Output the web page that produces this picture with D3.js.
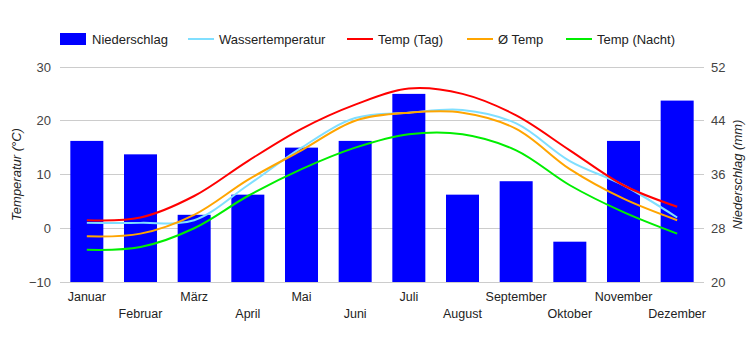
<!DOCTYPE html>
<html>
<head>
<meta charset="utf-8">
<script src="https://cdn.jsdelivr.net/npm/d3@7"></script>
<style>
  body { margin: 0; background: #fff; }
  svg text { font-family: "Liberation Sans", Arial, sans-serif; }
</style>
</head>
<body>
<div id="chart"></div>
<script>
var months = ["Januar", "Februar", "März", "April", "Mai", "Juni", "Juli", "August", "September", "Oktober", "November", "Dezember"];
var niederschlag = [41, 39, 30, 33, 40, 41, 48, 33, 35, 26, 41, 47];
var wassertemp = [1, 1, 1.5, 8, 15, 20.5, 21.5, 22, 19.5, 12.5, 8, 2];
var tempTag = [1.5, 2, 6, 12.5, 18.5, 23, 26, 25, 21, 14.5, 8, 4];
var tempAvg = [-1.5, -1, 2.5, 9, 14.5, 20, 21.5, 21.5, 18.5, 11, 5.5, 1.5];
var tempNacht = [-4, -3.5, 0, 6, 11, 15, 17.5, 17.5, 14.5, 8, 3, -1];
var tempTicks = [-10, 0, 10, 20, 30];
var rainTicks = [20, 28, 36, 44, 52];

function init() {
    var w = 750, h = 350;
    var left = 60, right = 704, top = 67, bottom = 282;

    var svg = d3.select("#chart").append("svg")
        .attr("width", w)
        .attr("height", h);

    var x = d3.scaleBand()
        .domain(months)
        .range([left, right])
        .paddingInner(0.385)
        .paddingOuter(0.1925);

    var yT = d3.scaleLinear().domain([-10, 30]).range([bottom, top]);
    var yR = d3.scaleLinear().domain([20, 52]).range([bottom, top]);

    // gridlines
    svg.append("g").selectAll("line")
        .data(tempTicks)
        .enter().append("line")
        .attr("x1", left).attr("x2", right)
        .attr("y1", function(d){ return yT(d); })
        .attr("y2", function(d){ return yT(d); })
        .attr("stroke", "#cccccc")
        .attr("stroke-width", 1)
        .attr("shape-rendering", "crispEdges");

    // bars
    svg.append("g").selectAll("rect")
        .data(niederschlag)
        .enter().append("rect")
        .attr("x", function(d, i){ return x(months[i]); })
        .attr("width", x.bandwidth())
        .attr("y", function(d){ return yR(d); })
        .attr("height", function(d){ return bottom - yR(d); })
        .attr("fill", "#0000ff");

    // lines
    var series = [
        { values: wassertemp, color: "#80dfff" },
        { values: tempTag, color: "#ff0000" },
        { values: tempAvg, color: "#ffa500" },
        { values: tempNacht, color: "#00ee00" }
    ];

    var line = d3.line()
        .x(function(d, i){ return x(months[i]) + x.bandwidth() / 2; })
        .y(function(d){ return yT(d); })
        .curve(d3.curveCatmullRom.alpha(0.5));

    svg.append("g").selectAll("path")
        .data(series)
        .enter().append("path")
        .attr("d", function(d){ return line(d.values); })
        .attr("fill", "none")
        .attr("stroke", function(d){ return d.color; })
        .attr("stroke-width", 2);

    // left axis
    var axL = svg.append("g")
        .attr("transform", "translate(" + left + ",0)")
        .call(d3.axisLeft(yT).tickValues(tempTicks).tickSize(0).tickPadding(9).tickFormat(d3.format("d")));
    axL.select(".domain").remove();
    axL.selectAll("text").attr("fill", "#444").style("font-size", "13px");

    // right axis
    var axR = svg.append("g")
        .attr("transform", "translate(" + right + ",0)")
        .call(d3.axisRight(yR).tickValues(rainTicks).tickSize(0).tickPadding(7));
    axR.select(".domain").remove();
    axR.selectAll("text").attr("fill", "#444").style("font-size", "13px");

    // x labels, staggered
    svg.append("g").selectAll("text")
        .data(months)
        .enter().append("text")
        .attr("x", function(d){ return x(d) + x.bandwidth() / 2; })
        .attr("y", function(d, i){ return i % 2 == 0 ? 301 : 318; })
        .attr("text-anchor", "middle")
        .attr("fill", "#222")
        .style("font-size", "12.5px")
        .text(function(d){ return d; });

    // axis titles
    svg.append("text")
        .attr("transform", "translate(21," + ((top + bottom) / 2) + ") rotate(-90)")
        .attr("text-anchor", "middle")
        .attr("fill", "#222")
        .style("font-size", "13px")
        .style("font-style", "italic")
        .text("Temperatur (°C)");

    svg.append("text")
        .attr("transform", "translate(742," + ((top + bottom) / 2) + ") rotate(-90)")
        .attr("text-anchor", "middle")
        .attr("fill", "#222")
        .style("font-size", "13px")
        .style("font-style", "italic")
        .text("Niederschlag (mm)");

    // legend
    var legend = [
        { label: "Niederschlag", color: "#0000ff", x: 60, bar: true },
        { label: "Wassertemperatur", color: "#80dfff", x: 188 },
        { label: "Temp (Tag)", color: "#ff0000", x: 347 },
        { label: "Ø Temp", color: "#ffa500", x: 467 },
        { label: "Temp (Nacht)", color: "#00ee00", x: 566 }
    ];

    var lg = svg.append("g").selectAll("g")
        .data(legend)
        .enter().append("g")
        .attr("transform", function(d){ return "translate(" + d.x + ",39)"; });

    lg.filter(function(d){ return d.bar; }).append("rect")
        .attr("x", 0).attr("y", -6)
        .attr("width", 26).attr("height", 12)
        .attr("fill", function(d){ return d.color; });

    lg.filter(function(d){ return !d.bar; }).append("line")
        .attr("x1", 0).attr("x2", 26)
        .attr("y1", 0).attr("y2", 0)
        .attr("stroke", function(d){ return d.color; })
        .attr("stroke-width", 2);

    lg.append("text")
        .attr("x", function(d){ return d.bar ? 32 : 31; })
        .attr("y", 0)
        .attr("dy", "0.35em")
        .attr("fill", "#222")
        .style("font-size", "13px")
        .text(function(d){ return d.label; });
}

window.onload = init;
</script>
</body>
</html>
